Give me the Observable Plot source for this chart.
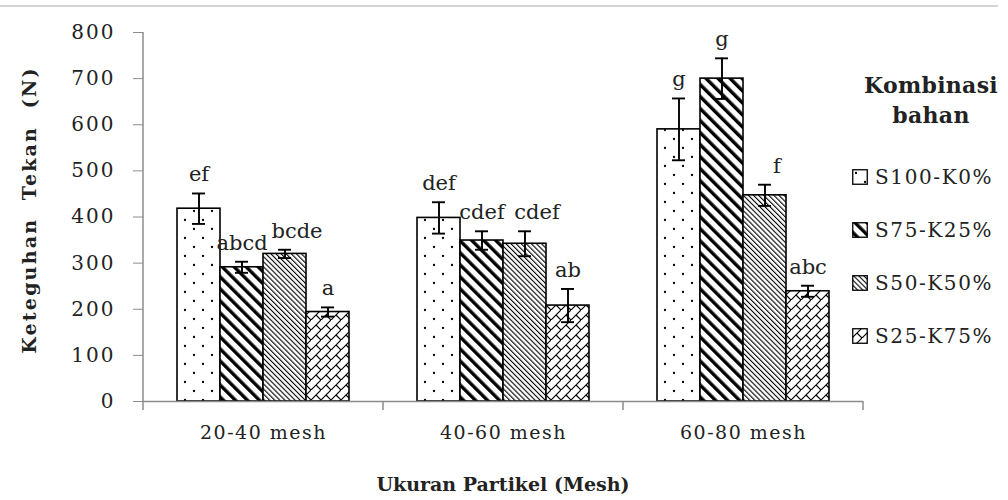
<!DOCTYPE html>
<html>
<head>
<meta charset="utf-8">
<script src="https://cdn.jsdelivr.net/npm/d3@7"></script>
<script src="https://cdn.jsdelivr.net/npm/@observablehq/plot@0.6"></script>
<style>
  html, body { margin: 0; padding: 0; background: #fff; }
  #wrap { position: relative; width: 1008px; height: 500px; overflow: hidden; font-family: "DejaVu Serif", serif; color: #222; }
  #topline { position: absolute; left: 0; top: 5px; width: 998px; height: 0; border-top: 2px solid #d4d4d4; }
  #chart { position: absolute; left: 0; top: 0; }
  #ytitle { position: absolute; left: 29px; top: 210px; transform: translate(-50%, -50%) rotate(-90deg); white-space: pre; font-weight: bold; font-size: 19px; letter-spacing: 2.2px; }
  #xtitle { position: absolute; left: 503px; top: 484px; transform: translate(-50%, -50%); white-space: pre; font-weight: bold; font-size: 19px; letter-spacing: 0px; }
  #legend { position: absolute; left: 846px; top: 70px; width: 162px; }
  #legend .title { font-weight: bold; font-size: 22px; text-align: center; line-height: 30px; margin-left: 8px; letter-spacing: 0.3px; }
  #legend .item { position: absolute; left: 6px; height: 24px; display: flex; align-items: center; font-size: 20px; letter-spacing: 1.6px; white-space: nowrap; }
  #legend .item svg { margin-right: 7px; }
  svg text { font-family: "DejaVu Serif", serif; }
</style>
</head>
<body>
<div id="wrap">
  <div id="topline"></div>
  <svg width="0" height="0" style="position:absolute">
    <defs>
      <pattern id="pat0" patternUnits="userSpaceOnUse" width="18" height="18">
        <rect width="18" height="18" fill="#fff"/>
        <circle cx="4" cy="4" r="1.15" fill="#000"/>
        <circle cx="13" cy="13" r="1.15" fill="#000"/>
      </pattern>
      <pattern id="pat1" patternUnits="userSpaceOnUse" width="8.5" height="8.5" patternTransform="rotate(-45)">
        <rect width="8.5" height="8.5" fill="#fff"/>
        <rect x="0" y="0" width="3.4" height="8.5" fill="#000"/>
      </pattern>
      <pattern id="pat2" patternUnits="userSpaceOnUse" width="3.6" height="3.6" patternTransform="rotate(-45)">
        <rect width="3.6" height="3.6" fill="#fff"/>
        <rect x="0" y="0" width="1.1" height="3.6" fill="#000"/>
      </pattern>
      <pattern id="pat3" patternUnits="userSpaceOnUse" width="10" height="10">
        <rect width="10" height="10" fill="#fff"/>
        <path d="M-1,11 L11,-1 M5,5 L10,10" stroke="#000" stroke-width="1.2" fill="none"/>
      </pattern>
    </defs>
  </svg>
  <div id="chart"></div>
  <div id="ytitle">Keteguhan  Tekan  (N)</div>
  <div id="xtitle">Ukuran Partikel (Mesh)</div>
  <div id="legend"></div>
</div>
<script>
// ---- data ----
const groups = ["20-40 mesh", "40-60 mesh", "60-80 mesh"];
const series = ["S100-K0%", "S75-K25%", "S50-K50%", "S25-K75%"];
// mean values per series, across groups
const s100 = [418, 398, 590];
const s75  = [291, 349, 700];
const s50  = [320, 342, 447];
const s25  = [194, 208, 239];
// error (± deviation) per series, across groups
const e100 = [33, 34, 67];
const e75  = [12, 20, 44];
const e50  = [9, 27, 23];
const e25  = [10, 36, 12];
// significance letters per series, across groups
const l100 = ["ef", "def", "g"];
const l75  = ["abcd", "cdef", "g"];
const l50  = ["bcde", "cdef", "f"];
const l25  = ["a", "ab", "abc"];
const yTicks = [0, 100, 200, 300, 400, 500, 600, 700, 800];
const patterns = ["url(#pat0)", "url(#pat1)", "url(#pat2)", "url(#pat3)"];

const means = [s100, s75, s50, s25];
const errs = [e100, e75, e50, e25];
const lets = [l100, l75, l50, l25];
const rows = [];
groups.forEach((g, gi) => {
  series.forEach((s, si) => {
    rows.push({group: g, series: s, mean: means[si][gi], err: errs[si][gi], letter: lets[si][gi]});
  });
});

const isS50 = d => d.series === series[2];
const labelOpts = {fx: "group", x: "series", y: d => d.mean + d.err, text: "letter", dy: -12, fontSize: 21, fill: "#222", lineAnchor: "bottom"};

const plot = Plot.plot({
  width: 1008,
  height: 500,
  marginTop: 32,
  marginBottom: 99,
  marginLeft: 142,
  marginRight: 144,
  style: {fontFamily: "DejaVu Serif, serif", fontSize: "19px", color: "#222", background: "transparent"},
  fx: {domain: groups, padding: 0, label: null, axis: "bottom", tickSize: 0, tickPadding: 24},
  x: {domain: series, paddingInner: 0, paddingOuter: 0.78, axis: null},
  y: {domain: [0, 800], ticks: yTicks, tickSize: 10, tickPadding: 18, label: null, tickFormat: d => String(d)},
  color: {domain: series, range: patterns},
  marks: [
    Plot.barY(rows, {fx: "group", x: "series", y: "mean", fill: "series", stroke: "#000", strokeWidth: 1.6}),
    Plot.ruleX(rows, {fx: "group", x: "series", y1: d => d.mean - d.err, y2: d => d.mean + d.err, stroke: "#000", strokeWidth: 1.9}),
    Plot.tickY(rows, {fx: "group", x: "series", y: d => d.mean + d.err, stroke: "#000", strokeWidth: 1.9, insetLeft: 15, insetRight: 15}),
    Plot.tickY(rows, {fx: "group", x: "series", y: d => d.mean - d.err, stroke: "#000", strokeWidth: 1.9, insetLeft: 15, insetRight: 15}),
    Plot.text(rows.filter(d => !isS50(d)), labelOpts),
    Plot.text(rows.filter(isS50), {...labelOpts, dx: 12}),
    Plot.ruleY([0], {stroke: "#8c8c8c", strokeWidth: 1.5})
  ]
});

document.getElementById("chart").appendChild(plot);

// style axis ticks gray, labels dark
d3.select(plot).selectAll('[aria-label="y-axis tick"] path, [aria-label="y-axis tick"]').attr("stroke", "#8c8c8c");
d3.select(plot).selectAll('[aria-label="y-axis tick label"]').attr("fill", "#222").style("font-size", "20px").style("letter-spacing", "2px");
d3.select(plot).selectAll('[aria-label="fx-axis tick label"]').attr("fill", "#222").style("font-size", "19px").style("letter-spacing", "1.5px");

// axis line and category boundary ticks, using the plot's own scales
const fx = plot.scale("fx");
const ys = plot.scale("y");
const y0 = ys.apply(0), yTop = ys.apply(800);
const bounds = groups.map(g => fx.apply(g));
bounds.push(fx.apply(groups[groups.length - 1]) + fx.bandwidth);
const g = d3.select(plot).append("g").attr("stroke", "#8c8c8c").attr("stroke-width", 1.5);
g.append("line").attr("x1", bounds[0]).attr("x2", bounds[0]).attr("y1", yTop).attr("y2", y0);
bounds.forEach(b => {
  g.append("line").attr("x1", b).attr("x2", b).attr("y1", y0).attr("y2", y0 + 9);
});

// legend
const legend = d3.select("#legend");
legend.append("div").attr("class", "title").html("Kombinasi<br>bahan");
series.forEach((s, i) => {
  const item = legend.append("div").attr("class", "item").style("top", (95 + i * 53) + "px");
  const sw = item.append("svg").attr("width", 16).attr("height", 16);
  sw.append("rect").attr("x", 0.75).attr("y", 0.75).attr("width", 14.5).attr("height", 14.5)
    .attr("fill", patterns[i]).attr("stroke", "#000").attr("stroke-width", 1.3);
  item.append("span").text(s);
});
</script>
</body>
</html>
